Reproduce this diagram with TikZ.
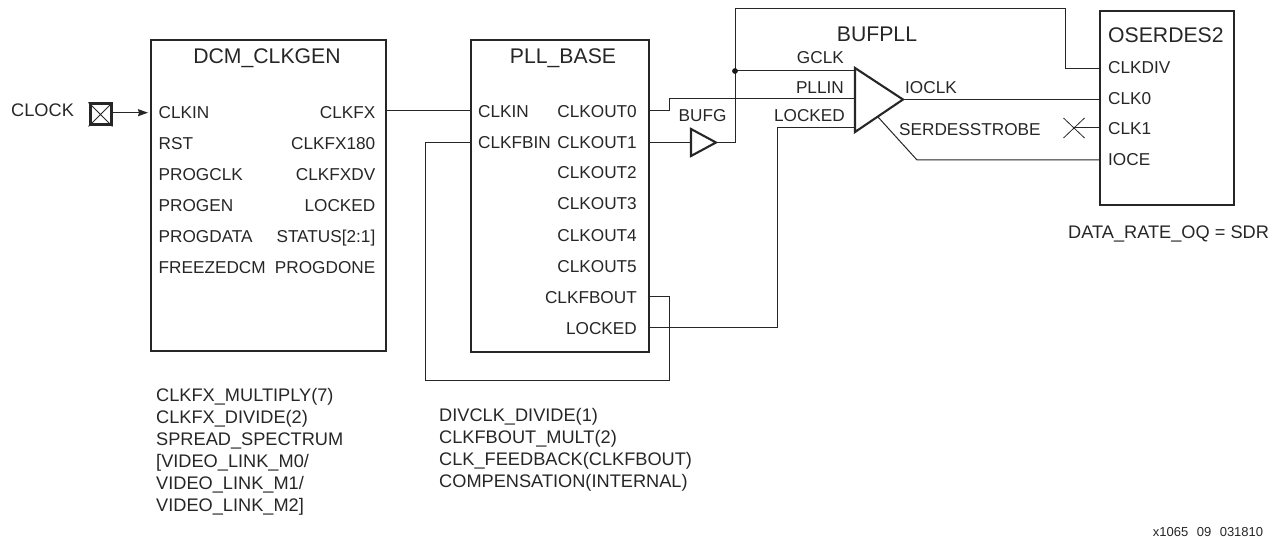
\documentclass[tikz,border=0pt]{standalone}
\usepackage{fontspec}
\setmainfont{Liberation Sans}
\usetikzlibrary{arrows.meta}
\begin{document}
\begin{tikzpicture}[x=1pt,y=-1pt,
  blockbox/.style={draw=black!85,line width=2.1pt,fill=none,inner sep=0pt,minimum width=0pt},
  wire/.style={draw=black!85,line width=1pt},
  tribox/.style={draw=black!85,line width=2.1pt,line join=miter},
  pin/.style={font=\fontsize{17.2}{18}\selectfont,anchor=base west,inner sep=0pt,text=black!85},
  pinr/.style={font=\fontsize{17.2}{18}\selectfont,anchor=base east,inner sep=0pt,text=black!85},
  titl/.style={font=\fontsize{21.2}{23}\selectfont,anchor=base,inner sep=0pt,text=black!85},
  note/.style={font=\fontsize{18.2}{22}\selectfont,anchor=north west,inner sep=0pt,align=left,text=black!85}]
\useasboundingbox (0,0) rectangle (1281,537);
% blocks
\node[blockbox,minimum width=235pt,minimum height=311pt,anchor=north west] (dcm) at (150,39) {};
\node[blockbox,minimum width=178pt,minimum height=312pt,anchor=north west] (pll) at (469.5,39) {};
\node[blockbox,minimum width=134pt,minimum height=194pt,anchor=north west] (ose) at (1099,10) {};
\node[blockbox,line width=3pt,minimum width=21pt,minimum height=21pt,anchor=north west] (pad) at (88.5,102.5) {};
\draw[black!85,line width=1pt] (pad.north west) -- (pad.south east) (pad.north east) -- (pad.south west);
% triangles
\coordinate (bpT) at (855,68); \coordinate (bpB) at (855,132); \coordinate (bpO) at (903,99.5);
\coordinate (bgT) at (691,129); \coordinate (bgB) at (691,156); \coordinate (bgO) at (716,142.5);
\draw[tribox] (bpT) -- (bpO) -- (bpB) -- cycle;
\draw[tribox] (bgT) -- (bgO) -- (bgB) -- cycle;
% junctions
\coordinate (bpG) at (855,71); \coordinate (bpP) at (855,99); \coordinate (bpL) at (855,128);
\coordinate (bgI) at (691,142.5);
\coordinate (j) at (735,71);
\coordinate (stS) at (878,117);
\coordinate (xc) at (1074,128);
\coordinate (dcmIn) at (148,112.7);
% wires
\draw[wire,-{Stealth[length=10pt,width=7pt,inset=1pt]}] (pad.east |- dcmIn) -- (dcmIn);
\draw[wire] (385,111) -- (469.5,111);
\draw[wire] (647.5,111) -- (669,111) -- (669,99) -- (bpP);
\draw[wire] (647.5,142.5) -- (bgI);
\draw[wire] (bgO) -- (735,142.5) -- (735,9) -- (1065,9) -- (1065,68.5) -- (1099,68.5);
\draw[wire] (j) -- (bpG);
\fill[black!90] (j) circle (2.9pt);
\draw[wire] (647.5,327) -- (777,327) -- (777,128) -- (bpL);
\draw[wire] (647.5,296) -- (669,296) -- (669,380) -- (425,380) -- (425,142.5) -- (469.5,142.5);
\draw[wire] (bpO) -- (1099,99.5);
\draw[wire] (stS) -- (917,160) -- (1099,160);
\draw[wire] (xc) -- (1099,128);
\draw[black!85,line width=0.8pt] (1063.5,118) -- (1084.5,138) (1084.5,118) -- (1063.5,138);
% titles
\node[titl] (t1) at (267,64) {DCM\_CLKGEN};
\node[titl] (t2) at (563,64) {PLL\_BASE};
\node[titl] (t3) at (877,41.7) {BUFPLL};
\node[titl,anchor=base west] (t4) at (1108,42.7) {OSERDES2};
\node[font=\fontsize{18.2}{20}\selectfont,anchor=base west,inner sep=0pt,text=black!85] (clk) at (11,117) {CLOCK};
% DCM pins
\node[pin] (a1) at (158.5,119) {CLKIN};
\node[pin] (a2) at (158.5,150) {RST};
\node[pin] (a3) at (158.5,181) {PROGCLK};
\node[pin] (a4) at (158.5,212) {PROGEN};
\node[pin] (a5) at (158.5,242.5) {PROGDATA};
\node[pin] (a6) at (158.5,273.5) {FREEZEDCM};
\node[pinr] (b1) at (375.5,119) {CLKFX};
\node[pinr] (b2) at (375.5,150) {CLKFX180};
\node[pinr] (b3) at (375.5,181) {CLKFXDV};
\node[pinr] (b4) at (375.5,212) {LOCKED};
\node[pinr] (b5) at (375.5,242.5) {STATUS[2:1]};
\node[pinr] (b6) at (375.5,273.5) {PROGDONE};
% PLL pins
\node[pin] (c1) at (478,117.3) {CLKIN};
\node[pin] (c2) at (478,148.3) {CLKFBIN};
\node[pinr] (d1) at (637,117.3) {CLKOUT0};
\node[pinr] (d2) at (637,148.3) {CLKOUT1};
\node[pinr] (d3) at (637,179) {CLKOUT2};
\node[pinr] (d4) at (637,210) {CLKOUT3};
\node[pinr] (d5) at (637,241) {CLKOUT4};
\node[pinr] (d6) at (637,272) {CLKOUT5};
\node[pinr] (d7) at (637,303) {CLKFBOUT};
\node[pinr] (d8) at (637,334) {LOCKED};
% BUFG / BUFPLL labels
\node[pin,anchor=base] (bg) at (702.5,121.7) {BUFG};
\node[pinr] (e1) at (844,64) {GCLK};
\node[pinr] (e2) at (844,94) {PLLIN};
\node[pinr] (e3) at (845,122) {LOCKED};
\node[pin] (e4) at (905,93.3) {IOCLK};
\node[pin] (e5) at (899,135.7) {SERDESSTROBE};
% OSERDES pins
\node[pin] (f1) at (1108,74) {CLKDIV};
\node[pin] (f2) at (1108,105) {CLK0};
\node[pin] (f3) at (1108,135) {CLK1};
\node[pin] (f4) at (1108,166) {IOCE};
\node[pin,font=\fontsize{18.2}{20}\selectfont] (f5) at (1068,238.3) {DATA\_RATE\_OQ = SDR};
% notes
\node[note] (n1) at (156,388) {CLKFX\_MULTIPLY(7)\\CLKFX\_DIVIDE(2)\\SPREAD\_SPECTRUM\\{[}VIDEO\_LINK\_M0/\\VIDEO\_LINK\_M1/\\VIDEO\_LINK\_M2{]}};
\node[note] (n2) at (439,408.6) {DIVCLK\_DIVIDE(1)\\CLKFBOUT\_MULT(2)\\CLK\_FEEDBACK(CLKFBOUT)\\COMPENSATION(INTERNAL)};
\node[font=\fontsize{13}{14}\selectfont,anchor=base west,inner sep=0pt,text=black!85] (id) at (1152.7,536) {x1065\hspace{8.5pt}09\hspace{8.5pt}031810};
\end{tikzpicture}
\end{document}
